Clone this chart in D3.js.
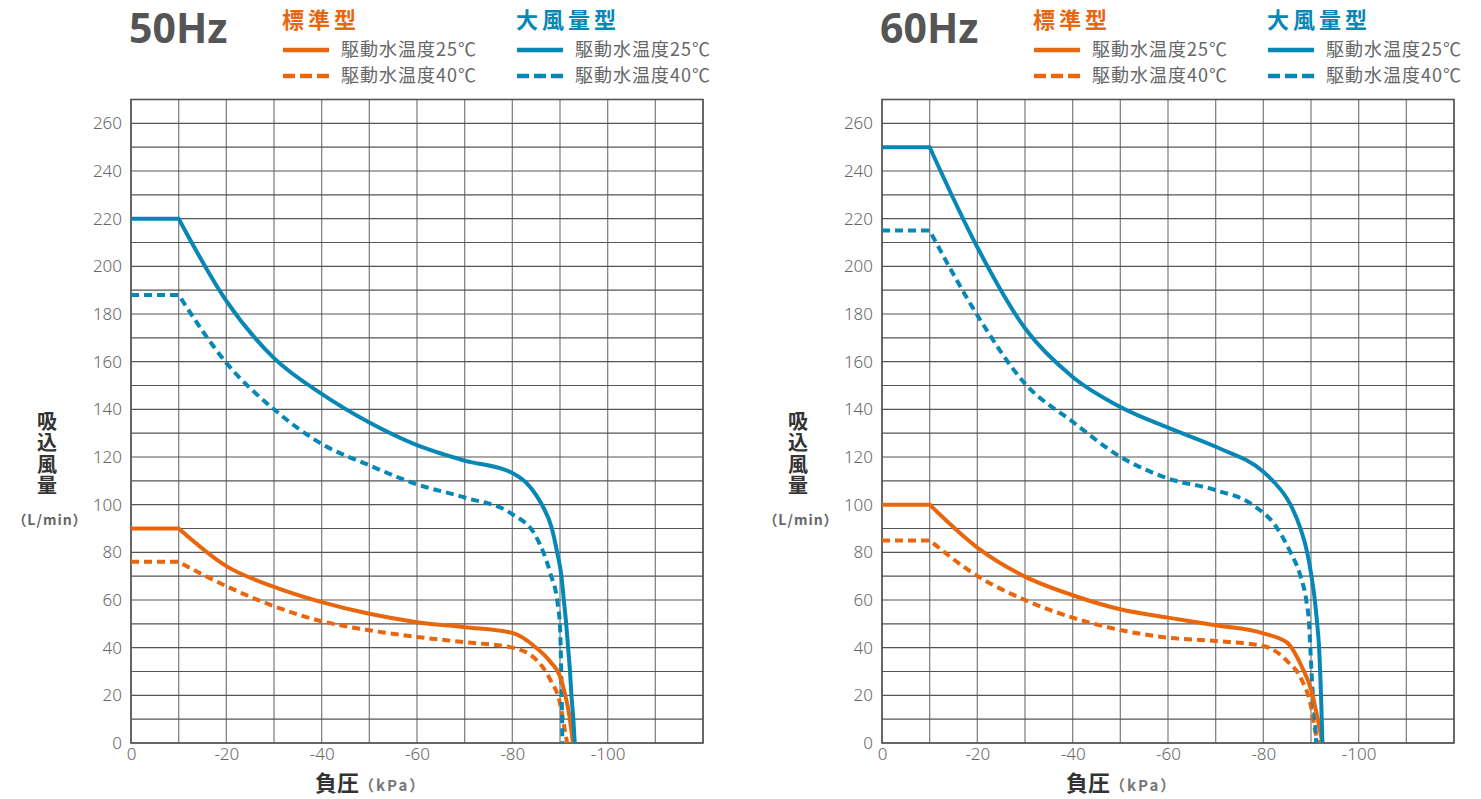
<!DOCTYPE html>
<html>
<head>
<meta charset="utf-8">
<script src="https://cdn.jsdelivr.net/npm/d3@7"></script>
<style>
  body { margin: 0; background: #fff; }
  svg text { font-family: "Noto Sans CJK JP", "Noto Sans", sans-serif; }
</style>
</head>
<body>
<div id="chart"></div>
<script>
// Tick labels
const pressureTicks = [0, -20, -40, -60, -80, -100];
const flowTicks = [0, 20, 40, 60, 80, 100, 120, 140, 160, 180, 200, 220, 240, 260];

// 50Hz - standard type
const p50Std25 = [0, -10, -20, -30, -40, -50, -60, -70, -80, -85, -88, -90, -91, -92, -92.7];
const q50Std25 = [90, 90, 74.2, 65.5, 59.1, 54.2, 50.7, 48.6, 46.2, 40, 34, 28, 21, 11, 0];
const p50Std40 = [0, -10, -20, -30, -40, -50, -60, -70, -80, -85, -88, -90, -91, -91.5];
const q50Std40 = [76, 76, 65.8, 57.4, 51.1, 47.3, 44.5, 42.3, 40, 35, 26.4, 16.7, 5.5, 0];
// 50Hz - large air volume type
const p50Big25 = [0, -10, -20, -30, -40, -50, -60, -70, -80, -83, -85, -86.2, -88.3, -89.4, -90.3, -90.8, -91.3, -91.7, -92.1, -92.4, -92.8, -93.1];
const q50Big25 = [220, 220, 185.5, 161.5, 146.5, 134.5, 125, 118.5, 113.3, 109, 104, 100, 90, 80, 70, 60, 50, 40, 30, 20, 10, 0];
const p50Big40 = [0, -10, -20, -30, -40, -50, -60, -70, -80, -85, -88, -89.5, -90, -90.2, -90.4, -90.5];
const q50Big40 = [188, 188, 159.5, 140, 125.5, 116.5, 108.5, 103, 96, 86.5, 71, 58.6, 49, 35, 15, 0];

// 60Hz - standard type
const p60Std25 = [0, -10, -20, -30, -40, -50, -60, -70, -80, -85, -88, -90, -91, -92, -92.4];
const q60Std25 = [100, 100, 82, 69.8, 62, 56.1, 52.6, 49.4, 46, 42.1, 32.3, 22.5, 14, 4, 0];
const p60Std40 = [0, -10, -20, -30, -40, -50, -60, -70, -80, -85, -88, -90, -91, -91.7];
const q60Std40 = [85, 85, 70.1, 60, 52.6, 47.4, 44.2, 42.8, 40.7, 34.4, 26.7, 15.4, 4, 0];
// 60Hz - large air volume type
const p60Big25 = [0, -10, -20, -30, -40, -50, -60, -70, -80, -82, -85.7, -87.8, -89.2, -90.1, -90.8, -91.3, -91.7, -92.1, -92.4];
const q60Big25 = [250, 250, 208, 174, 153.6, 141, 132.3, 124.3, 113.8, 110, 100, 90, 80, 70, 60, 50, 40, 20, 0];
const p60Big40 = [0, -10, -20, -30, -40, -50, -60, -70, -77.7, -82.6, -85.7, -87.8, -89, -89.6, -90.1, -90.4, -90.8, -91.1];
const q60Big40 = [215, 215, 179.5, 150.8, 134.8, 120.1, 111, 106.1, 100, 91, 80, 70, 60, 50, 30, 20, 10, 0];

const orange = "#e9660c";
const blue = "#0787b6";

const width = 1481;
const height = 799;

const svg = d3.select("#chart").append("svg")
    .attr("width", width)
    .attr("height", height);

const zip = (p, q) => p.map((v, i) => [v, q[i]]);

function drawPanel(x0, title, series) {
    const plotW = 572;
    const x = d3.scaleLinear().domain([0, -120]).range([x0, x0 + plotW]);
    const y = d3.scaleLinear().domain([0, 270]).range([743, 99.5]);

    const g = svg.append("g");

    // grid
    g.selectAll(".vgrid")
        .data(d3.range(0, -121, -10))
        .enter().append("line")
        .attr("x1", d => x(d)).attr("x2", d => x(d))
        .attr("y1", y(0)).attr("y2", y(270))
        .attr("stroke", "#858585")
        .attr("stroke-width", 1.3);

    g.selectAll(".hgrid")
        .data(d3.range(0, 271, 10))
        .enter().append("line")
        .attr("x1", x(0)).attr("x2", x(-120))
        .attr("y1", d => y(d)).attr("y2", d => y(d))
        .attr("stroke", "#555")
        .attr("stroke-width", 1.1);

    g.append("rect")
        .attr("x", x(0)).attr("y", y(270))
        .attr("width", plotW).attr("height", y(0) - y(270))
        .attr("fill", "none")
        .attr("stroke", "#555")
        .attr("stroke-width", 1.6);

    // axes
    const yAxis = g.append("g")
        .attr("transform", `translate(${x(0)},0)`)
        .call(d3.axisLeft(y).tickValues(flowTicks).tickSize(0).tickPadding(9));
    yAxis.select(".domain").remove();
    yAxis.selectAll("text")
        .attr("fill", "#666")
        .style("font-family", "'Noto Sans', sans-serif")
        .style("font-size", "17px")
        .style("font-weight", 300);

    const xAxis = g.append("g")
        .attr("transform", `translate(0,${y(0)})`)
        .call(d3.axisBottom(x).tickValues(pressureTicks).tickFormat(d => String(d)).tickSize(0).tickPadding(5));
    xAxis.select(".domain").remove();
    xAxis.selectAll("text")
        .attr("fill", "#666")
        .style("font-family", "'Noto Sans', sans-serif")
        .style("font-size", "17px")
        .style("font-weight", 300);

    // curves: flat part straight, rest smooth
    const curve = d3.line()
        .x(d => x(d[0]))
        .y(d => y(d[1]))
        .curve(d3.curveMonotoneX);

    series.forEach(s => {
        const pts = zip(s.p, s.q);
        const rest = curve(pts.slice(1)).replace(/^M/, "L");
        const d = `M${x(pts[0][0])},${y(pts[0][1])}` + rest;
        g.append("path")
            .attr("d", d)
            .attr("fill", "none")
            .attr("stroke", s.color)
            .attr("stroke-width", 4)
            .attr("stroke-dasharray", s.dashed ? "8,5" : null);
    });

    // title
    g.append("text")
        .attr("x", x0 - 2).attr("y", 43)
        .attr("fill", "#555")
        .style("font-family", "'Noto Sans', sans-serif")
        .style("font-size", "41px")
        .style("font-weight", 700)
        .text(title);

    // legend
    const legend = [
        { head: "標準型", color: orange, dx: 151, ls: 4 },
        { head: "大風量型", color: blue, dx: 385, ls: 4 }
    ];
    legend.forEach(l => {
        g.append("text")
            .attr("x", x0 + l.dx).attr("y", 28)
            .attr("fill", l.color)
            .style("font-size", "22px")
            .style("font-weight", 700)
            .style("letter-spacing", l.ls + "px")
            .text(l.head);
        [{ t: "駆動水温度25℃", dashed: false, yy: 50 },
         { t: "駆動水温度40℃", dashed: true, yy: 76 }].forEach(r => {
            g.append("line")
                .attr("x1", x0 + l.dx + 1).attr("x2", x0 + l.dx + 47)
                .attr("y1", r.yy).attr("y2", r.yy)
                .attr("stroke", l.color)
                .attr("stroke-width", 4.5)
                .attr("stroke-dasharray", r.dashed ? "12,5" : null);
            g.append("text")
                .attr("x", x0 + l.dx + 59).attr("y", r.yy + 6)
                .attr("fill", "#666")
                .style("font-size", "18px")
                .style("letter-spacing", "1px")
                .text(r.t);
        });
    });

    // y label (vertical)
    g.append("text")
        .attr("x", x0 - 84).attr("y", 411)
        .attr("fill", "#333")
        .style("writing-mode", "vertical-rl")
        .style("text-orientation", "upright")
        .style("font-size", "20px")
        .style("font-weight", 700)
        .style("letter-spacing", "1.5px")
        .text("吸込風量");
    g.append("text")
        .attr("x", x0 - 81).attr("y", 525)
        .attr("text-anchor", "middle")
        .attr("fill", "#666")
        .style("font-size", "14px")
        .style("font-weight", 700)
        .style("letter-spacing", "1px")
        .text("（L/min）");

    // x label
    const xl = g.append("text")
        .attr("x", x0 + 184).attr("y", 791);
    xl.append("tspan")
        .attr("fill", "#333")
        .style("font-size", "22px")
        .style("font-weight", 700)
        .text("負圧");
    xl.append("tspan")
        .attr("fill", "#777")
        .style("font-size", "15px")
        .style("font-weight", 700)
        .style("letter-spacing", "2px")
        .text("（kPa）");
}

drawPanel(131, "50Hz", [
    { p: p50Std40, q: q50Std40, color: orange, dashed: true },
    { p: p50Big40, q: q50Big40, color: blue, dashed: true },
    { p: p50Std25, q: q50Std25, color: orange, dashed: false },
    { p: p50Big25, q: q50Big25, color: blue, dashed: false }
]);

drawPanel(882, "60Hz", [
    { p: p60Std40, q: q60Std40, color: orange, dashed: true },
    { p: p60Big40, q: q60Big40, color: blue, dashed: true },
    { p: p60Std25, q: q60Std25, color: orange, dashed: false },
    { p: p60Big25, q: q60Big25, color: blue, dashed: false }
]);
</script>
</body>
</html>
